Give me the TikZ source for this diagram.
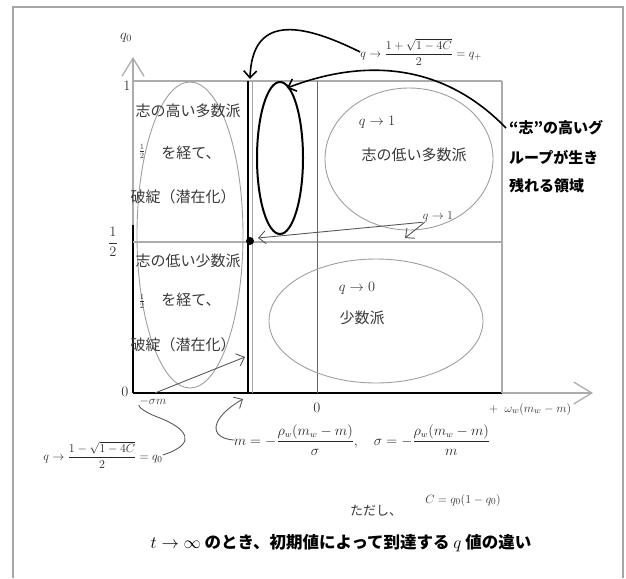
\documentclass[tikz,border=0pt]{standalone}
\usepackage{amsmath}
\usepackage{fontspec}
\newfontfamily\cjk{Noto Sans CJK JP}
\usetikzlibrary{arrows.meta}
\begin{document}
\begin{tikzpicture}[x=1pt,y=-1pt,
  gl/.style={draw=gray!65, line width=1.3pt},
  ell/.style={draw=gray!75, line width=0.9pt},
  jp/.style={font=\cjk\fontsize{15}{17}\selectfont, text=black!78, inner sep=0pt},
  jpb/.style={font=\cjk\bfseries\fontsize{15}{17}\selectfont, text=black, inner sep=0pt},
  mt/.style={font=\fontsize{14}{16}\selectfont, text=black!80, inner sep=0pt},
  ms/.style={font=\fontsize{12}{14}\selectfont, text=black!80, inner sep=0pt},
  barb/.style={-{Straight Barb[length=7pt,width=13pt]}},
  bigbarb/.style={-{Straight Barb[length=18pt,width=22pt]}},
  conn/.style={line width=1.6pt},
  gconn/.style={draw=gray!70!black, line width=0.9pt},
]
\useasboundingbox (0,0) rectangle (626,578);
% frame
\draw[draw=gray!70, line width=2pt] (13,578) -- (13,7) -- (623,7) -- (623,578);

% axes
\draw[gl, bigbarb] (133,393) -- (133,57);
\draw[gl, bigbarb] (502,393) -- (593,393);
\draw[line width=2pt] (133,225) -- (133,393);
\draw[line width=2.2pt] (133,393) -- (502,393);

% grid lines
\draw[gl] (133,81) -- (502,81);
\draw[draw=gray!65, line width=2.5pt] (133,242) -- (502,242);
\draw[gl] (502,81) -- (502,393);
\draw[draw=gray!80!black, line width=0.9pt] (317,81) -- (317,393);
\draw[line width=2.2pt] (248,81) -- (248,393);
\draw[draw=gray!70, line width=1.5pt] (252.5,81) -- (252.5,393);

% ellipses
\draw[ell] (190,235) ellipse [x radius=53pt, y radius=153pt];
\draw[ell] (409,159) ellipse [x radius=84pt, y radius=71pt];
\draw[ell] (376,321) ellipse [x radius=107pt, y radius=62pt];
\draw[line width=2pt] (280,158) ellipse [x radius=23pt, y radius=76pt];

\node[circle, fill, inner sep=0pt, minimum size=8pt] (dot) at (250,241) {};

% axis labels
\node[mt] (ylab) at (126,38) {$q_0$};
\node[mt] (one) at (127,86) {$1$};
\node[mt] (half) at (113,242) {$\dfrac{1}{2}$};
\node[mt] (zero) at (125,392) {$0$};
\node[ms] (sm) at (153,401) {$-\sigma m$};
\node[mt] (xzero) at (317,408) {$0$};
\node[ms, font=\fontsize{13}{15}\selectfont] (xlab) at (530,409) {$+\;\;\omega_w(m_w-m)$};

% left region texts
\node[jp] (t1) at (188,111) {志の高い多数派};
\node[ms] (h1) at (142,151) {$\tfrac{1}{2}$};
\node[jp] (t2) at (191,153) {を経て、};
\node[jp] (t3) at (183,197) {破綻（潜在化）};
\node[jp] (t4) at (188,261) {志の低い少数派};
\node[ms] (h2) at (142,301) {$\tfrac{1}{2}$};
\node[jp] (t5) at (191,300) {を経て、};
\node[jp] (t6) at (183,345) {破綻（潜在化）};

% right region texts
\node[mt] (r1) at (377,122) {$q\to 1$};
\node[jp] (r2) at (414,155) {志の低い多数派};
\node[mt] (r3) at (357,288) {$q\to 0$};
\node[jp] (r4) at (362,318) {少数派};
\node[ms] (r5) at (438,217) {$q\to 1$};

% q+ label
\node[font=\fontsize{12.5}{14}\selectfont, text=black!85, inner sep=0pt] (qplus) at (421,52) {$q\to\dfrac{1+\sqrt{1-4C}}{2}=q_+$};
% survival label
\node[jpb, anchor=west] (s1) at (509,128) {“志”の高いグ};
\node[jpb, anchor=west] (s2) at (509,157) {ループが生き};
\node[jpb, anchor=west] (s3) at (509,186) {残れる領域};

% q0 label
\node[font=\fontsize{12.5}{14}\selectfont, text=black!85, inner sep=0pt] (qzero) at (103,455) {$q\to\dfrac{1-\sqrt{1-4C}}{2}=q_0$};
% m, sigma formula
\node[font=\fontsize{13.5}{15}\selectfont, text=black!85, inner sep=0pt] (form) at (362,440) {$m=-\dfrac{\rho_w(m_w-m)}{\sigma},\quad \sigma=-\dfrac{\rho_w(m_w-m)}{m}$};
\node[jp, font=\cjk\fontsize{13}{15}\selectfont] (tadashi) at (376,511) {ただし、};
\node[ms, font=\fontsize{13}{15}\selectfont] (cdef) at (463,500) {$C=q_0(1-q_0)$};
% title
\node[jpb, font=\cjk\bfseries\fontsize{16.5}{18}\selectfont] (title) at (341,543) {$t\to\infty$ のとき、初期値によって到達する $q$ 値の違い};

% connectors
\coordinate (thickTop) at (250,79);
\coordinate (ellTop) at (287,88);
\coordinate (dotTip) at (258,238);
\coordinate (halfPt) at (405,238);
\coordinate (smPt) at (155,393);
\coordinate (thickMid) at (245,357);
\coordinate (thickBot) at (243,399);

\draw[conn, barb] (qplus.west) .. controls (300,22) and (252,15) .. (thickTop);
\draw[conn, barb] ([xshift=-3pt]s1.west) .. controls (440,60) and (360,60) .. (ellTop);
\draw[gconn, barb] (r5.south west) -- (dotTip);
\draw[gconn, barb] ([xshift=2pt]r5.south west) -- (halfPt);
\draw[gconn, barb] (smPt) -- (thickMid);
\draw[gconn] (qzero.east) .. controls (200,443) and (185,428) .. (160,418) .. controls (138,410) and (138,404) .. (sm.south west);
\draw[gconn, barb] (form.west) .. controls (208,438) and (210,418) .. (thickBot);
\end{tikzpicture}
\end{document}
